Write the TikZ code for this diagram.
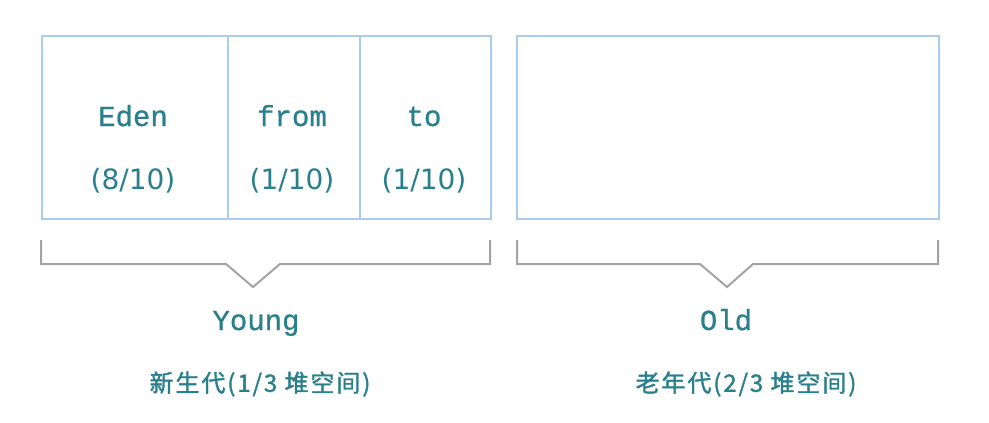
\documentclass[tikz,border=0pt]{standalone}
\usepackage{fontspec}
\setmonofont[FakeBold=0.8]{Liberation Mono}
\newfontfamily\cjk[LetterSpace=8,FakeBold=1.5]{Noto Sans CJK SC}
\newfontfamily\numfont{DejaVu Sans}
\definecolor{boxline}{HTML}{A9CDEB}
\definecolor{brk}{HTML}{A3A3A3}
\definecolor{txt}{HTML}{2A7F8C}
\begin{document}
\begin{tikzpicture}[x=1pt,y=-1pt,
  cell/.style={draw=boxline,line width=1.6pt,inner sep=0pt,minimum height=183pt,anchor=north west},
  word/.style={text=txt,font=\fontsize{29}{29}\selectfont\ttfamily,inner sep=0pt,anchor=base},
  num/.style={text=txt,font=\fontsize{28}{28}\selectfont\numfont,inner sep=0pt,anchor=base},
  cn/.style={text=txt,font=\fontsize{24}{24}\selectfont\cjk,inner sep=0pt},
  bracket/.style={draw=brk,line width=2pt,line join=miter}]
\useasboundingbox (0,0) rectangle (989,423);
\node[cell,minimum width=186pt] (eden) at (41,35) {};
\node[cell,minimum width=132pt] (from) at (227,35) {};
\node[cell,minimum width=131pt] (to) at (359,35) {};
\node[cell,minimum width=422pt] (old) at (516,35) {};
\node[word] (edenw) at (133,126) {Eden};
\node[num] (edenn) at (133,189) {(8/10)};
\node[word] (fromw) at (292,126) {from};
\node[num] (fromn) at (292,189) {(1/10)};
\node[word] (tow) at (424,126) {to};
\node[num] (ton) at (424,189) {(1/10)};
\coordinate (yl) at (41,240);
\coordinate (yr) at (490,240);
\coordinate (ytip) at (253,287);
\draw[bracket] (yl) -- (41,264) -- (226,264) -- (ytip) -- (280,264) -- (490,264) -- (yr);
\coordinate (ol) at (517,240);
\coordinate (or) at (938,240);
\coordinate (otip) at (727,287);
\draw[bracket] (ol) -- (517,264) -- (700,264) -- (otip) -- (753,264) -- (938,264) -- (or);
\node[word] (young) at (256,330) {Young};
\node[word] (oldw) at (726,330) {Old};
\node[cn] (youngcn) at (260,384) {新生代(1/3 堆空间)};
\node[cn] (oldcn) at (746,384) {老年代(2/3 堆空间)};
\end{tikzpicture}
\end{document}
